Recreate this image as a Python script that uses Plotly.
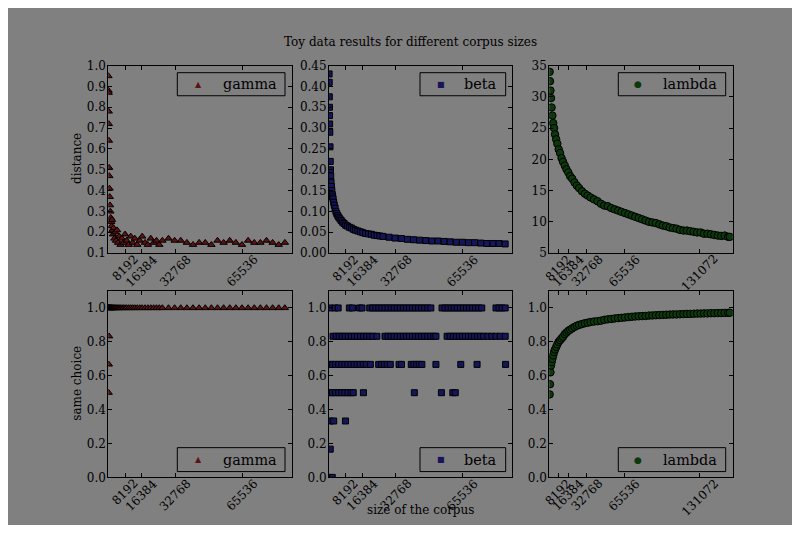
import plotly.graph_objects as go

# The page body adds an 8px margin; a 784x517 figure fills the 800x533 window exactly.
W, H = 784, 517
OX, OY = 8, 8

# ---------------- data ----------------
corpus_sizes = [50, 100, 150, 200, 250, 300, 400, 500, 600, 700,
                850, 1000, 1200, 1400, 1600, 1800, 2000,
                2300, 2600, 3000, 3400, 3800, 4300, 4800, 5400, 6000, 6700, 7400, 8200, 9000,
                10000, 11000, 12000, 13000,
                14200, 15400, 16600,
                18000, 19400, 20800, 22200, 23600, 25000,
                26500, 29500, 32500, 35500, 38500, 41500, 44500,
                47500, 50500, 53500, 56500, 59500, 62500, 65500,
                68500, 71500, 74500, 77500, 80500, 83500, 86500]

gamma_distance = [0.95, 0.88, 0.87, 0.78, 0.72, 0.64, 0.51, 0.47, 0.41, 0.37,
                  0.33, 0.30, 0.27, 0.25, 0.23, 0.26, 0.21,
                  0.19, 0.22, 0.17, 0.20, 0.16, 0.21, 0.15, 0.18, 0.14, 0.17, 0.15, 0.19, 0.16,
                  0.14, 0.18, 0.15, 0.17,
                  0.14, 0.16, 0.18,
                  0.15, 0.14, 0.17, 0.15, 0.16, 0.14,
                  0.16, 0.17, 0.16, 0.16, 0.15, 0.14, 0.15,
                  0.15, 0.14, 0.16, 0.15, 0.16, 0.15, 0.14,
                  0.16, 0.15, 0.15, 0.16, 0.15, 0.14, 0.15]

beta_distance = [0.43, 0.41, 0.375, 0.35, 0.33, 0.31, 0.29, 0.255, 0.22, 0.20,
                 0.185, 0.17, 0.16, 0.15, 0.14, 0.135, 0.13,
                 0.122, 0.115, 0.108, 0.100, 0.095, 0.090, 0.086, 0.082, 0.078, 0.074, 0.071, 0.067, 0.065,
                 0.062, 0.060, 0.057, 0.055,
                 0.053, 0.051, 0.049,
                 0.047, 0.046, 0.045, 0.043, 0.042, 0.041,
                 0.040, 0.038, 0.036, 0.035, 0.033, 0.032, 0.031,
                 0.030, 0.029, 0.029, 0.028, 0.027, 0.026, 0.026,
                 0.025, 0.025, 0.024, 0.023, 0.023, 0.023, 0.022]

gamma_same_choice = [1.0, 1.0, 0.5, 1.0, 0.667, 1.0, 0.833, 1.0, 1.0, 1.0,
                     1.0, 1.0, 1.0, 1.0, 1.0, 1.0, 1.0,
                     1.0, 1.0, 1.0, 1.0, 1.0, 1.0, 1.0, 1.0, 1.0, 1.0, 1.0, 1.0, 1.0,
                     1.0, 1.0, 1.0, 1.0,
                     1.0, 1.0, 1.0,
                     1.0, 1.0, 1.0, 1.0, 1.0, 1.0,
                     1.0, 1.0, 1.0, 1.0, 1.0, 1.0, 1.0,
                     1.0, 1.0, 1.0, 1.0, 1.0, 1.0, 1.0,
                     1.0, 1.0, 1.0, 1.0, 1.0, 1.0, 1.0]

# beta "same choice": corpus sizes at which each level occurs
beta_same_levels = [1.0, 0.833, 0.667, 0.5, 0.333, 0.167, 0.0]
beta_same_at_100 = [500, 3000, 4500, 10000, 11500, 15000, 16200, 20000, 21500, 23000, 24500,
                    26000, 27500, 29000, 30500, 32000, 33500, 35000, 36500, 38000, 39500,
                    41000, 42500, 44000, 45500, 47000, 48500, 50000, 55500, 57000, 58500,
                    60000, 61500, 63000, 64500, 66000, 67500, 69000, 70500, 72000, 73500,
                    75000, 82000, 83500, 85000, 86500]
beta_same_at_083 = [2000, 3500, 5000, 6500, 8000, 9500, 11000, 12500, 14000, 15500, 17000,
                    18500, 20000, 21500, 23500, 27500, 29000, 30500, 32000, 33500, 35000,
                    36500, 38000, 39500, 41000, 42500, 44000, 45500, 47000, 48500, 50000,
                    51500, 52500, 58000, 59500, 61000, 62500, 64000, 65500, 67000, 68500,
                    70000, 71500, 73000, 74500, 76000, 78000, 80000, 82000, 84000, 86500]
beta_same_at_067 = [500, 1800, 3300, 4800, 6300, 7800, 9300, 10800, 12300, 13800, 15300,
                    16800, 18300, 20300, 24400, 25800, 27200, 28600, 30100, 34400, 35600,
                    40400, 41700, 43000, 44300, 45600, 52500, 64700, 72700, 86700]
beta_same_at_050 = [500, 1800, 3300, 4800, 6300, 7800, 9300, 10800, 11900, 16900, 41900,
                    55200, 60800, 62000]
beta_same_at_033 = [600, 2300, 8100]
beta_same_at_017 = [600]
beta_same_at_000 = [500, 1600]

lambda_sizes = [300, 600, 1000, 1500, 2000, 2700, 3400, 4200, 5000, 6000,
                7000, 8200, 9400, 10700, 12000, 13500, 15000, 16600, 18200, 20000,
                22000, 24000, 26000, 28500, 31000, 33500, 36000, 39000, 42000, 45000,
                48000, 51000, 54000, 57000, 60000, 63000, 66000, 69000, 72000, 75000,
                78000, 81000, 84000, 87000, 90000, 93000, 96000, 99000, 102000, 105000,
                108000, 111000, 114000, 117000, 120000, 123000, 126000, 129000, 132000, 135000,
                138000, 141000, 144000, 147000, 150000, 153000, 156000, 157500]

lambda_distance = [34.0, 32.5, 31.0, 29.8, 28.3, 27.0, 25.8, 25.0, 24.0, 23.2,
                   22.5, 21.6, 21.0, 20.2, 19.6, 19.0, 18.4, 17.9, 17.3, 16.9,
                   16.3, 15.8, 15.4, 14.9, 14.5, 14.2, 13.9, 13.6, 13.3, 12.9,
                   12.6, 12.5, 12.2, 12.0, 11.8, 11.6, 11.4, 11.2, 11.0, 10.8,
                   10.6, 10.4, 10.2, 10.0, 9.9, 9.8, 9.6, 9.4, 9.3, 9.1,
                   9.0, 8.9, 8.7, 8.6, 8.6, 8.5, 8.4, 8.3, 8.3, 8.1,
                   8.1, 8.0, 7.9, 7.8, 7.75, 7.8, 7.6, 7.6]

lambda_same_choice = [0.49, 0.55, 0.62, 0.66, 0.68, 0.70, 0.72, 0.74, 0.755, 0.77,
                      0.785, 0.80, 0.81, 0.82, 0.83, 0.845, 0.855, 0.865, 0.872, 0.88,
                      0.888, 0.895, 0.90, 0.905, 0.91, 0.913, 0.917, 0.92, 0.922, 0.925,
                      0.93, 0.933, 0.935, 0.938, 0.94, 0.942, 0.944, 0.946, 0.948, 0.95,
                      0.951, 0.952, 0.953, 0.955, 0.956, 0.957, 0.958, 0.959, 0.960, 0.961,
                      0.962, 0.962, 0.963, 0.964, 0.965, 0.965, 0.966, 0.967, 0.967, 0.968,
                      0.968, 0.969, 0.969, 0.970, 0.970, 0.971, 0.971, 0.972]

xticks_small = [8192, 16384, 32768, 65536]
xticks_large = [8192, 16384, 32768, 65536, 131072]

yticks_gamma_dist = [0.1, 0.2, 0.3, 0.4, 0.5, 0.6, 0.7, 0.8, 0.9, 1.0]
yticks_beta_dist = [0.0, 0.05, 0.10, 0.15, 0.20, 0.25, 0.30, 0.35, 0.40, 0.45]
yticks_lambda_dist = [5, 10, 15, 20, 25, 30, 35]
yticks_choice = [0.0, 0.2, 0.4, 0.6, 0.8, 1.0]

title_text = "Toy data results for different corpus sizes"

# beta same-choice series, assembled from the level lists
beta_level_lists = [beta_same_at_100, beta_same_at_083, beta_same_at_067, beta_same_at_050,
                    beta_same_at_033, beta_same_at_017, beta_same_at_000]
beta_same_x, beta_same_y = [], []
for lvl, xs in zip(beta_same_levels, beta_level_lists):
    beta_same_x += xs
    beta_same_y += [lvl] * len(xs)

# ---------------- styling / layout ----------------
BG = "#808080"
FONT = "DejaVu Serif"
colors = {"gamma": "#5e1212", "beta": "#15155a", "lambda": "#0c380c"}
symbols = {"gamma": "triangle-up", "beta": "square", "lambda": "circle"}
sizes = {"gamma": 6.5, "beta": 6, "lambda": 7.5}
glyphs = {"gamma": "\u25B2", "beta": "\u25A0", "lambda": "\u25CF"}
glyph_sizes = {"gamma": 8, "beta": 8, "lambda": 9}


def px_x(p):  # window pixel -> paper fraction
    return (p - OX) / W


def px_y(p):
    return 1 - (p - OY) / H


cols = [(108.3, 292.0), (329.0, 512.3), (549.3, 732.7)]
rows = [(60.0, 252.7), (291.7, 483.3)]
# legend boxes: (left, right, marker x, text right)
leg_boxes = {"gamma": (177.3, 285.0, 198.3, 278.5),
             "beta": (420.0, 505.7, 441.0, 498.5),
             "lambda": (618.3, 725.7, 638.3, 719.0)}
leg_rows = [(67.3, 91.0), (452.7, 477.3)]

panels = [
    (0, 0, "gamma", corpus_sizes, gamma_distance, [0, 90000], xticks_small, [0.1, 1.0], yticks_gamma_dist, ["%.1f" % v for v in yticks_gamma_dist]),
    (0, 1, "beta", corpus_sizes, beta_distance, [0, 90000], xticks_small, [0.0, 0.45], yticks_beta_dist, ["%.2f" % v for v in yticks_beta_dist]),
    (0, 2, "lambda", lambda_sizes, lambda_distance, [0, 160000], xticks_large, [5, 35], yticks_lambda_dist, [str(v) for v in yticks_lambda_dist]),
    (1, 0, "gamma", corpus_sizes, gamma_same_choice, [0, 90000], xticks_small, [0.0, 1.1], yticks_choice, ["%.1f" % v for v in yticks_choice]),
    (1, 1, "beta", beta_same_x, beta_same_y, [0, 90000], xticks_small, [0.0, 1.1], yticks_choice, ["%.1f" % v for v in yticks_choice]),
    (1, 2, "lambda", lambda_sizes, lambda_same_choice, [0, 160000], xticks_large, [0.0, 1.1], yticks_choice, ["%.1f" % v for v in yticks_choice]),
]

fig = go.Figure()
layout = dict(
    width=W, height=H,
    margin=dict(l=0, r=0, t=0, b=0, pad=0),
    paper_bgcolor=BG, plot_bgcolor=BG,
    font=dict(family=FONT, size=12, color="black"),
    showlegend=False,
)
annotations = []
shapes = []

for i, (r, c, name, xs, ys, xr, xt, yr, yt, ytt) in enumerate(panels):
    k = i + 1
    xa = "x" if k == 1 else "x%d" % k
    ya = "y" if k == 1 else "y%d" % k
    fig.add_trace(go.Scatter(
        x=xs, y=ys, mode="markers", name=name, xaxis=xa, yaxis=ya,
        marker=dict(symbol=symbols[name], size=sizes[name], color=colors[name],
                    line=dict(color="black", width=1)),
        cliponaxis=True,
    ))
    x0, x1 = cols[c]
    y0, y1 = rows[r]
    eps_y = (yr[1] - yr[0]) * 1e-6
    axis_common = dict(showgrid=False, zeroline=False, showline=True, linecolor="black",
                       linewidth=1, mirror="allticks", ticks="inside", ticklen=4,
                       tickwidth=1, tickcolor="black")
    layout["xaxis" if k == 1 else "xaxis%d" % k] = dict(
        domain=[px_x(x0), px_x(x1)], range=xr, anchor=ya,
        tickmode="array", tickvals=xt, showticklabels=False, **axis_common)
    layout["yaxis" if k == 1 else "yaxis%d" % k] = dict(
        domain=[px_y(y1), px_y(y0)], range=[yr[0] - eps_y, yr[1] + eps_y], anchor=xa,
        tickmode="array", tickvals=yt, ticktext=ytt, ticklabelstandoff=-1,
        tickfont=dict(family=FONT, size=12, color="black"), **axis_common)
    # rotated x tick labels, centred on their ticks
    for v in xt:
        s = str(v)
        off = 0.354 * (len(s) * 7.6 + 13)
        annotations.append(dict(
            x=v, xref=xa, y=px_y(y1 + off), yref="paper", text=s, showarrow=False,
            textangle=-45, xanchor="center", yanchor="middle",
            font=dict(family=FONT, size=12, color="black")))
    # legend box (frame + marker + label)
    bl, br, mx, tr = leg_boxes[name]
    bt, bb = leg_rows[r]
    shapes.append(dict(type="rect", xref="paper", yref="paper",
                       x0=px_x(bl), x1=px_x(br), y0=px_y(bb), y1=px_y(bt),
                       fillcolor=BG, line=dict(color="black", width=1), layer="above"))
    annotations.append(dict(
        x=px_x(mx), y=px_y((bt + bb) / 2), xref="paper", yref="paper", text=glyphs[name],
        showarrow=False, xanchor="center", yanchor="middle",
        font=dict(family="DejaVu Sans", size=glyph_sizes[name], color=colors[name])))
    annotations.append(dict(
        x=px_x(tr), y=px_y((bt + bb) / 2), xref="paper", yref="paper", text=name,
        showarrow=False, xanchor="right", yanchor="middle",
        font=dict(family=FONT, size=14.4, color="black")))

annotations += [
    dict(x=px_x(410), y=px_y(36), xref="paper", yref="paper", text=title_text,
         showarrow=False, xanchor="center", yanchor="middle",
         font=dict(family=FONT, size=12, color="black")),
    dict(x=px_x(77), y=px_y(156), xref="paper", yref="paper", text="distance",
         showarrow=False, textangle=-90, xanchor="center", yanchor="middle",
         font=dict(family=FONT, size=12, color="black")),
    dict(x=px_x(77), y=px_y(387), xref="paper", yref="paper", text="same choice",
         showarrow=False, textangle=-90, xanchor="center", yanchor="middle",
         font=dict(family=FONT, size=12, color="black")),
    dict(x=px_x(420.5), y=px_y(525), xref="paper", yref="paper", text="size of the corpus",
         showarrow=False, xanchor="center", yanchor="bottom", borderpad=0,
         font=dict(family=FONT, size=12, color="black")),
]
layout["annotations"] = annotations
layout["shapes"] = shapes
fig.update_layout(**layout)

fig.write_html("out.html")
